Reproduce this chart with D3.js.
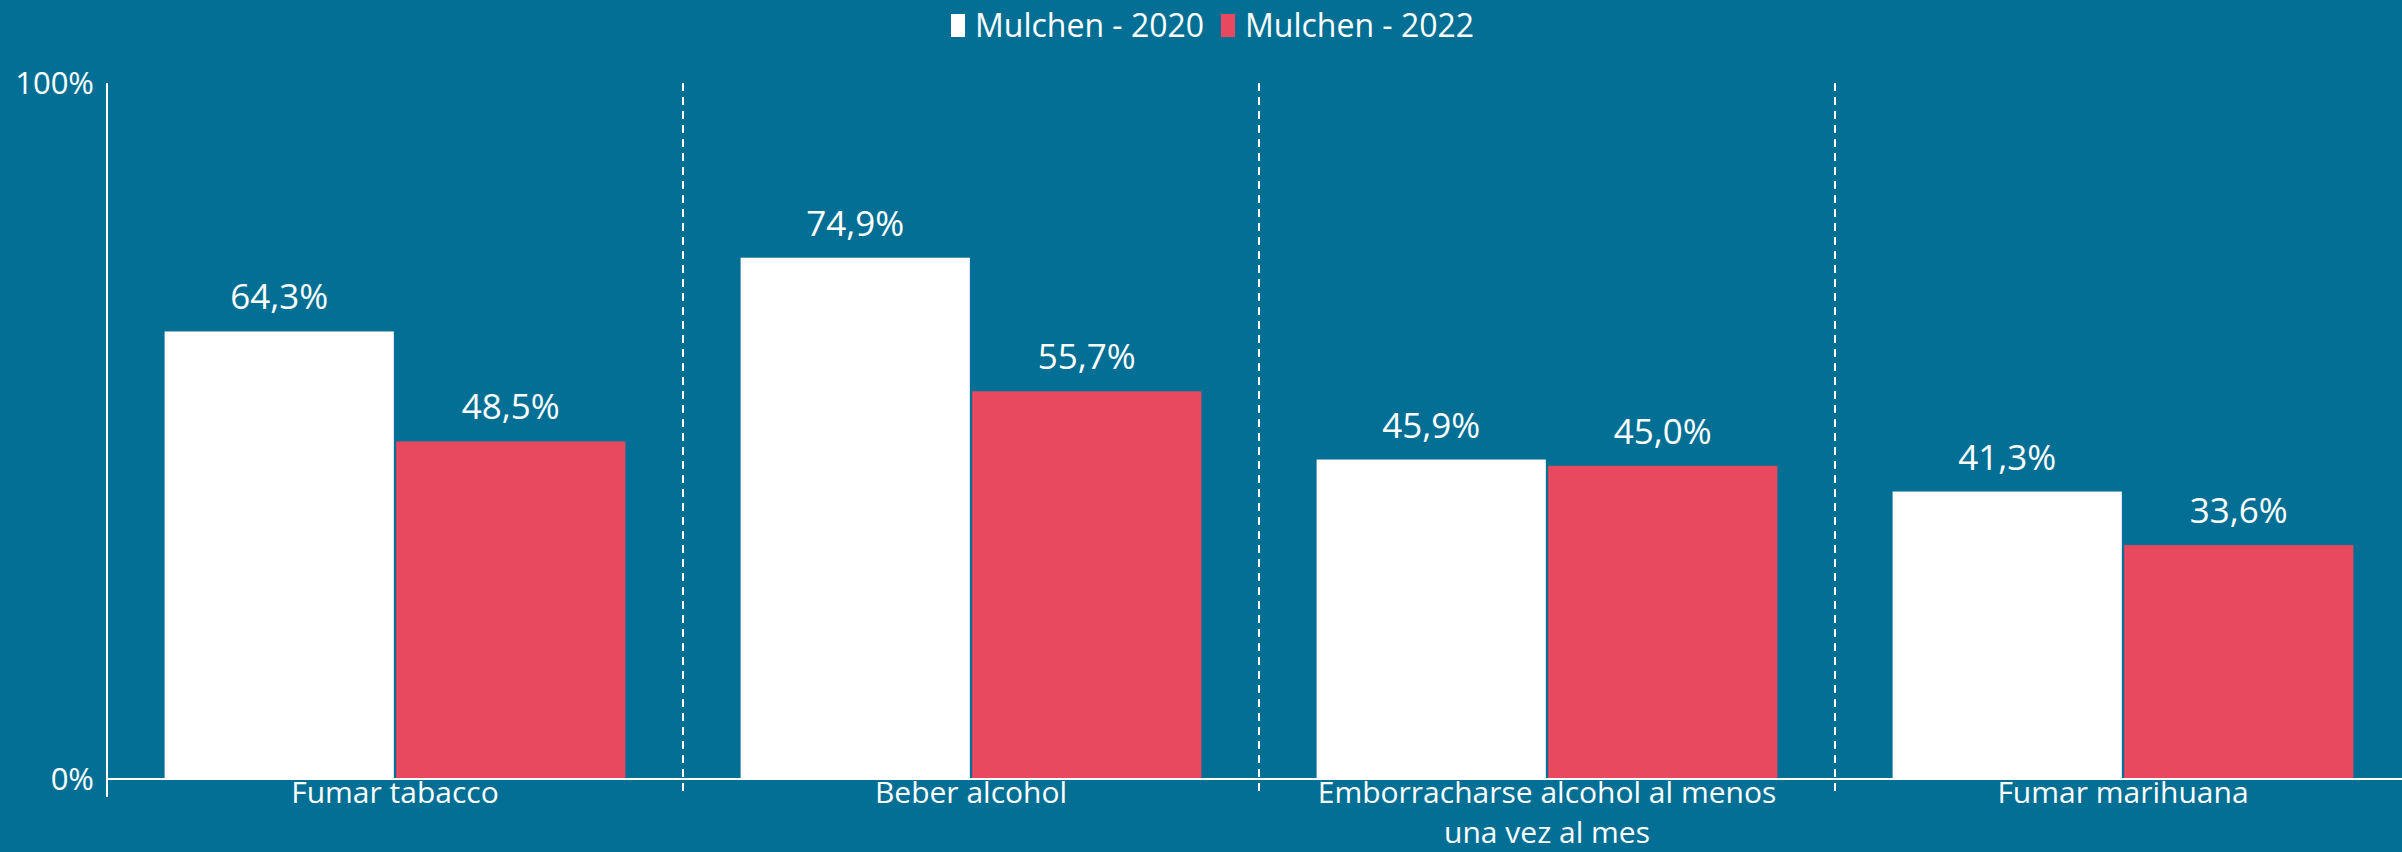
<!DOCTYPE html>
<html>
<head>
<meta charset="utf-8">
<script src="https://cdn.jsdelivr.net/npm/d3@7"></script>
<style>
  html, body { margin: 0; padding: 0; background: #046f94; }
  svg { display: block; font-family: "Open Sans", sans-serif; }
</style>
</head>
<body>
<svg id="chart"></svg>
<script>
// ----------------------------------
// Data
// ----------------------------------
const categories = [
  ["Fumar tabacco"],
  ["Beber alcohol"],
  ["Emborracharse alcohol al menos", "una vez al mes"],
  ["Fumar marihuana"]
];
const series = ["Mulchen - 2020", "Mulchen - 2022"];
const values2020 = [64.3, 74.9, 45.9, 41.3];
const values2022 = [48.5, 55.7, 45.0, 33.6];
const yTicks = [0, 100];

// ----------------------------------
// Setup
// ----------------------------------
const width = 2402, height = 852;
const bg = "#046f94";
const colors = ["#ffffff", "#e8495f"];
const svg = d3.select("#chart").attr("width", width).attr("height", height);
svg.append("rect").attr("width", width).attr("height", height).attr("fill", bg);

const plotLeft = 107, plotTop = 83, baseline = 779;
const catStep = 576;

const catIdx = categories.map((d, i) => i);
const x0 = d3.scaleBand().domain(catIdx).range([plotLeft, plotLeft + catStep * categories.length]).padding(0);
const x1 = d3.scaleBand().domain(series)
  .range([x0.bandwidth() * 0.1, x0.bandwidth() * 0.9]).paddingInner(0.01);
const y = d3.scaleLinear().domain([0, 100]).range([baseline, plotTop]);

const rows = catIdx.map(i => ({ i, vals: [values2020[i], values2022[i]] }));

// dashed dividers between categories
const dividers = catIdx.slice(1).map(i => x0(i));
svg.append("g").selectAll("line").data(dividers).enter().append("line")
  .attr("x1", d => d).attr("x2", d => d)
  .attr("y1", plotTop).attr("y2", baseline + 18)
  .attr("stroke", "#ffffff").attr("stroke-width", 2)
  .attr("stroke-dasharray", "8,6");

// bars
const groups = svg.append("g").selectAll("g").data(rows).enter().append("g")
  .attr("transform", d => `translate(${x0(d.i)},0)`);

groups.selectAll("rect").data(d => d.vals.map((v, k) => ({ v, s: series[k], k })))
  .enter().append("rect")
  .attr("x", d => x1(d.s))
  .attr("width", x1.bandwidth())
  .attr("y", d => y(d.v))
  .attr("height", d => y(0) - y(d.v))
  .attr("fill", d => colors[d.k]);

groups.selectAll("text").data(d => d.vals.map((v, k) => ({ v, s: series[k], k })))
  .enter().append("text")
  .attr("x", d => x1(d.s) + x1.bandwidth() / 2)
  .attr("y", d => y(d.v) - 22)
  .attr("text-anchor", "middle")
  .attr("fill", "#ffffff")
  .attr("font-size", 35)
  .text(d => d.v.toFixed(1).replace(".", ",") + "%");

// y axis line + baseline
svg.append("line")
  .attr("x1", plotLeft).attr("x2", plotLeft)
  .attr("y1", plotTop).attr("y2", baseline + 18)
  .attr("stroke", "#ffffff").attr("stroke-width", 2);
svg.append("line")
  .attr("x1", plotLeft).attr("x2", width)
  .attr("y1", baseline).attr("y2", baseline)
  .attr("stroke", "#ffffff").attr("stroke-width", 2);

// y tick labels
svg.append("g").selectAll("text").data(yTicks).enter().append("text")
  .attr("x", 94)
  .attr("y", d => y(d))
  .attr("dy", "0.35em")
  .attr("text-anchor", "end")
  .attr("fill", "#ffffff")
  .attr("font-size", 31)
  .text(d => d + "%");

// category labels
const catLabels = svg.append("g").selectAll("text").data(rows).enter().append("text")
  .attr("x", d => x0(d.i) + x0.bandwidth() / 2)
  .attr("y", 803)
  .attr("text-anchor", "middle")
  .attr("fill", "#ffffff")
  .attr("font-size", 30);
catLabels.selectAll("tspan").data(d => categories[d.i]).enter().append("tspan")
  .attr("x", function() { return d3.select(this.parentNode).attr("x"); })
  .attr("dy", (d, k) => k === 0 ? 0 : 40)
  .text(d => d);

// legend
const legendX = [951, 1221];
const legend = svg.append("g").selectAll("g").data(series).enter().append("g")
  .attr("transform", (d, k) => `translate(${legendX[k]},0)`);
legend.append("rect")
  .attr("x", 0).attr("y", 14).attr("width", 14).attr("height", 23)
  .attr("fill", (d, k) => colors[k]);
legend.append("text")
  .attr("x", 24).attr("y", 37)
  .attr("fill", "#ffffff")
  .attr("font-size", 32)
  .text(d => d);
</script>
</body>
</html>
